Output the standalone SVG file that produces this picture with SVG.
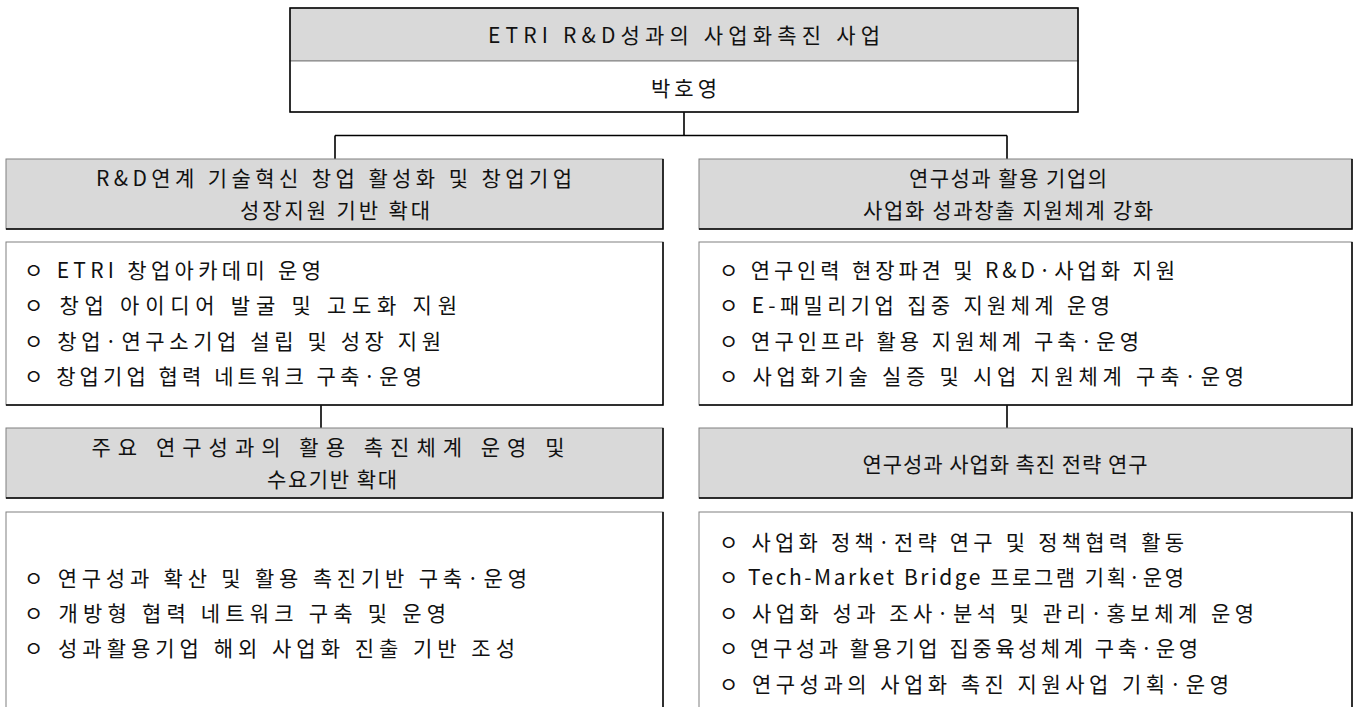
<svg xmlns="http://www.w3.org/2000/svg" width="1357" height="707" viewBox="0 0 1357 707">
<style>
.bg{fill:#ffffff}
.gray{fill:#d9d9d9;stroke:#808080;stroke-width:1}
.white{fill:#ffffff;stroke:#808080;stroke-width:1}
.edge{fill:none;stroke:#000;stroke-width:1.5}
.conn{fill:none;stroke:#000;stroke-width:1.6}
text{font-family:"Noto Sans CJK KR","Noto Sans",sans-serif;font-size:21px;fill:#111;dominant-baseline:central}
.c{text-anchor:middle}
</style>
<rect class="bg" x="0" y="0" width="1357" height="707"/>
<g id="connectors">
<path class="conn" d="M684,112 V135.5 M335,135.5 H1007 M335,135.5 V159 M1007,135.5 V159 M321,405 V428 M1007,405 V428"/>
</g>
<g id="node-top">
<rect class="gray" x="290" y="8" width="788" height="53"/>
<rect class="white" x="290" y="61" width="788" height="51"/>
<rect x="290" y="8" width="788" height="104" fill="none" stroke="#000" stroke-width="1.5"/>
<text class="c" x="684" y="34" textLength="392" lengthAdjust="spacing">ETRI R&amp;D성과의 사업화촉진 사업</text>
<text class="c" x="684" y="87" textLength="66" lengthAdjust="spacing">박호영</text>
</g>
<g id="node-l1">
<rect class="gray" x="6" y="159" width="657" height="70"/>
<path class="edge" d="M6,229 H663 V159"/>
<text class="c" x="334" y="177" textLength="476" lengthAdjust="spacing">R&amp;D연계 기술혁신 창업 활성화 및 창업기업</text>
<text class="c" x="335" y="209" textLength="190" lengthAdjust="spacing">성장지원 기반 확대</text>
</g>
<g id="node-l1-items">
<rect class="white" x="6" y="242" width="657" height="163"/>
<path class="edge" d="M6,405 H663 V242"/>
<text x="24" y="269" textLength="297" lengthAdjust="spacing">ㅇ ETRI 창업아카데미 운영</text>
<text x="24" y="304" textLength="433" lengthAdjust="spacing">ㅇ 창업 아이디어 발굴 및 고도화 지원</text>
<text x="24" y="340" textLength="417" lengthAdjust="spacing">ㅇ 창업·연구소기업 설립 및 성장 지원</text>
<text x="24" y="375" textLength="398" lengthAdjust="spacing">ㅇ 창업기업 협력 네트워크 구축·운영</text>
</g>
<g id="node-r1">
<rect class="gray" x="699" y="159" width="653" height="70"/>
<path class="edge" d="M699,229 H1352 V159"/>
<text class="c" x="1008" y="177" textLength="198" lengthAdjust="spacing">연구성과 활용 기업의</text>
<text class="c" x="1008" y="209" textLength="290" lengthAdjust="spacing">사업화 성과창출 지원체계 강화</text>
</g>
<g id="node-r1-items">
<rect class="white" x="699" y="242" width="653" height="163"/>
<path class="edge" d="M699,405 H1352 V242"/>
<text x="719" y="269" textLength="456" lengthAdjust="spacing">ㅇ 연구인력 현장파견 및 R&amp;D·사업화 지원</text>
<text x="719" y="304" textLength="391" lengthAdjust="spacing">ㅇ E-패밀리기업 집중 지원체계 운영</text>
<text x="719" y="340" textLength="420" lengthAdjust="spacing">ㅇ 연구인프라 활용 지원체계 구축·운영</text>
<text x="719" y="375" textLength="525" lengthAdjust="spacing">ㅇ 사업화기술 실증 및 시업 지원체계 구축·운영</text>
</g>
<g id="node-l2">
<rect class="gray" x="6" y="428" width="657" height="70"/>
<path class="edge" d="M6,498 H663 V428"/>
<text class="c" x="328" y="446" textLength="473" lengthAdjust="spacing">주요 연구성과의 활용 촉진체계 운영 및</text>
<text class="c" x="332" y="478" textLength="130" lengthAdjust="spacing">수요기반 확대</text>
</g>
<g id="node-l2-items">
<rect class="white" x="6" y="512" width="657" height="215"/>
<path class="edge" d="M663,727 V512"/>
<text x="24" y="577" textLength="503" lengthAdjust="spacing">ㅇ 연구성과 확산 및 활용 촉진기반 구축·운영</text>
<text x="24" y="612" textLength="422" lengthAdjust="spacing">ㅇ 개방형 협력 네트워크 구축 및 운영</text>
<text x="24" y="647" textLength="491" lengthAdjust="spacing">ㅇ 성과활용기업 해외 사업화 진출 기반 조성</text>
</g>
<g id="node-r2">
<rect class="gray" x="699" y="428" width="653" height="70"/>
<path class="edge" d="M699,498 H1352 V428"/>
<text class="c" x="1005" y="463" textLength="285" lengthAdjust="spacing">연구성과 사업화 촉진 전략 연구</text>
</g>
<g id="node-r2-items">
<rect class="white" x="699" y="512" width="653" height="215"/>
<path class="edge" d="M1352,727 V512"/>
<text x="719" y="541" textLength="465" lengthAdjust="spacing">ㅇ 사업화 정책·전략 연구 및 정책협력 활동</text>
<text x="719" y="576" textLength="465" lengthAdjust="spacing">ㅇ Tech-Market Bridge 프로그램 기획·운영</text>
<text x="719" y="612" textLength="535" lengthAdjust="spacing">ㅇ 사업화 성과 조사·분석 및 관리·홍보체계 운영</text>
<text x="719" y="647" textLength="479" lengthAdjust="spacing">ㅇ 연구성과 활용기업 집중육성체계 구축·운영</text>
<text x="719" y="683" textLength="510" lengthAdjust="spacing">ㅇ 연구성과의 사업화 촉진 지원사업 기획·운영</text>
</g>
</svg>
